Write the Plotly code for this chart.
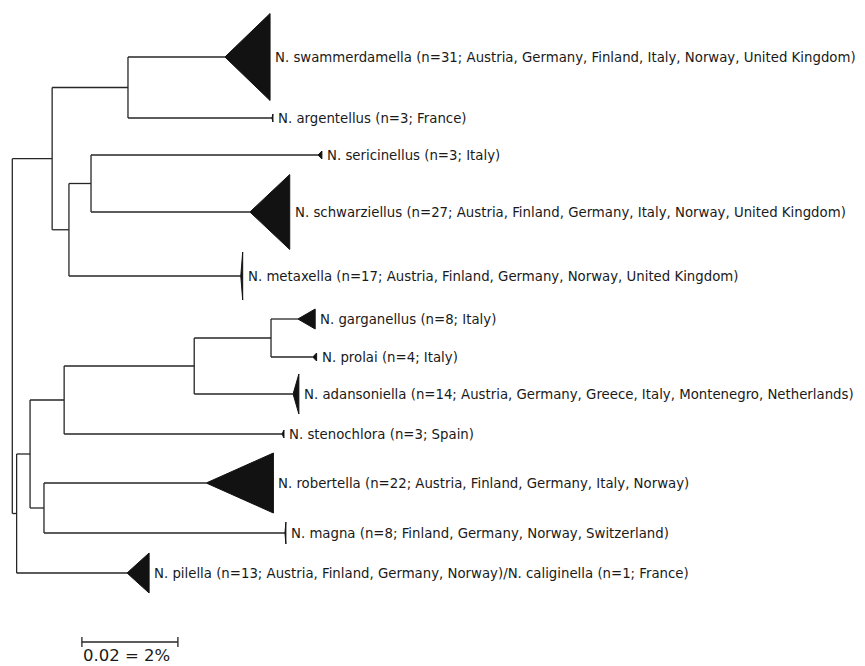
import plotly.graph_objects as go

# ---------------- data ----------------
# internal nodes: name, parent, distance from root (substitutions/site)
node_names = ["R", "A", "B", "C", "D", "E", "F", "G", "H", "I", "J"]
node_parent = [None, "R", "R", "A", "A", "D", "B", "F", "F", "G", "I"]
node_dist = [0.0, 0.0083, 0.0009, 0.0241, 0.0118, 0.0164, 0.0037, 0.0108, 0.0066, 0.0379, 0.0539]

# collapsed clades / terminal taxa (top to bottom)
leaf_labels = [
    "N. swammerdamella (n=31; Austria, Germany, Finland, Italy, Norway, United Kingdom)",
    "N. argentellus (n=3; France)",
    "N. sericinellus (n=3; Italy)",
    "N. schwarziellus (n=27; Austria, Finland, Germany, Italy, Norway, United Kingdom)",
    "N. metaxella (n=17; Austria, Finland, Germany, Norway, United Kingdom)",
    "N. garganellus (n=8; Italy)",
    "N. prolai (n=4; Italy)",
    "N. adansoniella (n=14; Austria, Germany, Greece, Italy, Montenegro, Netherlands)",
    "N. stenochlora (n=3; Spain)",
    "N. robertella (n=22; Austria, Finland, Germany, Italy, Norway)",
    "N. magna (n=8; Finland, Germany, Norway, Switzerland)",
    "N. pilella (n=13; Austria, Finland, Germany, Norway)/N. caliginella (n=1; France)",
]
leaf_parent = ["C", "C", "E", "E", "D", "J", "J", "I", "G", "H", "H", "B"]
leaf_dist = [0.0443, 0.0541, 0.0637, 0.0495, 0.0476, 0.0595, 0.0626, 0.0585, 0.0562, 0.0404, 0.0568, 0.0239]
leaf_row = [57, 118, 155, 212, 276, 319, 357, 394, 434, 483, 533, 573]
clade_depth = [0.0094, 0.0002, 0.0008, 0.0083, 0.0004, 0.0036, 0.0008, 0.0012, 0.0004, 0.0140, 0.0002, 0.0046]
clade_half = [43.5, 4, 4, 37.5, 24, 10, 4, 20, 4, 30, 11, 20]

scale_start = 0.0145
scale_len = 0.02
scale_label = "0.02 = 2%"

# ---------------- build ----------------
LINE = "#262626"
FILL = "#121212"

dist = dict(zip(node_names, node_dist))
parent = dict(zip(node_names, node_parent))
children = {n: [] for n in node_names}
for n, p in zip(node_names, node_parent):
    if p is not None:
        children[p].append(n)
ypos = {}
for i, p in enumerate(leaf_parent):
    key = "leaf%d" % i
    children[p].append(key)
    ypos[key] = leaf_row[i]
    dist[key] = leaf_dist[i]
    parent[key] = p


def gety(n):
    if n not in ypos:
        ys = [gety(c) for c in children[n]]
        ypos[n] = (min(ys) + max(ys)) / 2
    return ypos[n]


gety("R")

xs, ys = [], []
for n in list(node_names) + ["leaf%d" % i for i in range(len(leaf_row))]:
    p = parent[n]
    if p is not None:
        xs += [dist[p], dist[n], None]
        ys += [ypos[n], ypos[n], None]
    if children.get(n):
        cy = [ypos[c] for c in children[n]]
        xs += [dist[n], dist[n], None]
        ys += [min(cy), max(cy), None]

fig = go.Figure()
fig.add_trace(go.Scatter(x=xs, y=ys, mode="lines", line=dict(color=LINE, width=1.3),
                         hoverinfo="skip", showlegend=False))

for i in range(len(leaf_row)):
    x0 = leaf_dist[i]
    x1 = x0 + clade_depth[i]
    y0 = leaf_row[i]
    h = clade_half[i]
    fig.add_trace(go.Scatter(x=[x0, x1, x1, x0], y=[y0, y0 - h, y0 + h, y0], mode="lines",
                             fill="toself", fillcolor=FILL, line=dict(color=FILL, width=1),
                             hoverinfo="skip", showlegend=False))
    fig.add_annotation(x=x1, y=y0, text=leaf_labels[i], showarrow=False, xanchor="left",
                       yanchor="middle", xshift=3,
                       font=dict(family="DejaVu Sans", size=13.3, color="#1a1a1a"))

# scale bar
sb_y = 642
fig.add_trace(go.Scatter(x=[scale_start, scale_start + scale_len], y=[sb_y, sb_y], mode="lines",
                         line=dict(color=LINE, width=1.3), hoverinfo="skip", showlegend=False))
for sx in [scale_start, scale_start + scale_len]:
    fig.add_trace(go.Scatter(x=[sx, sx], y=[sb_y - 5, sb_y + 5], mode="lines",
                             line=dict(color=LINE, width=1.3), hoverinfo="skip", showlegend=False))
fig.add_annotation(x=scale_start, y=sb_y, text=scale_label, showarrow=False,
                   xanchor="left", yanchor="top", yshift=-2, xshift=-1,
                   font=dict(family="DejaVu Sans", size=16.5, color="#1a1a1a"))

PX_PER_UNIT = 4800.0
fig.update_layout(
    width=865, height=666,
    margin=dict(l=0, r=0, t=0, b=0),
    paper_bgcolor="white", plot_bgcolor="white",
    xaxis=dict(range=[-12.3 / PX_PER_UNIT, (865 - 12.3) / PX_PER_UNIT], visible=False, fixedrange=True),
    yaxis=dict(range=[666, 0], visible=False, fixedrange=True),
)
fig.write_html("out.html", config={"displayModeBar": False},
               post_script="document.body.style.margin='0';document.body.style.overflow='hidden';")
